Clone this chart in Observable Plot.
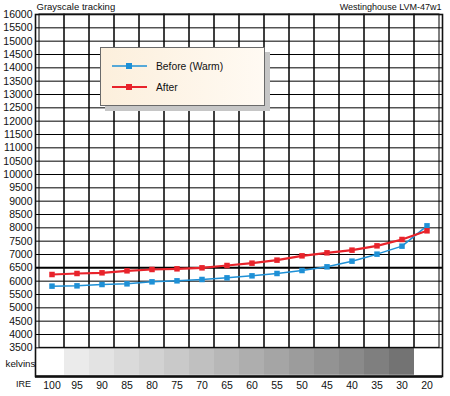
<!DOCTYPE html>
<html>
<head>
<meta charset="utf-8">
<script src="https://cdn.jsdelivr.net/npm/d3@7"></script>
<script src="https://cdn.jsdelivr.net/npm/@observablehq/plot@0.6"></script>
<style>
  html, body { margin: 0; padding: 0; background: #fff; }
  #wrap { position: relative; width: 450px; height: 396px; font-family: "Liberation Sans", Arial, sans-serif; }
  #legend {
    position: absolute; left: 100px; top: 47px; width: 163px; height: 57px;
    border: 1px solid #6a6a6a;
    background: linear-gradient(to right, #fcefdc, #fffaf3);
    box-shadow: 5px 5px 0 #c6c6c6;
  }
  #legend .item { position: absolute; left: 11px; height: 14px; display: flex; align-items: center; font-size: 10.3px; color: #111; }
  #legend svg { margin-right: 9px; }
</style>
</head>
<body>
<div id="wrap"></div>
<script>
const ire = ["100","95","90","85","80","75","70","65","60","55","50","45","40","35","30","20"];
const before = [5813,5825,5875,5900,5975,6013,6063,6125,6200,6288,6400,6538,6750,7013,7313,8075];
const after  = [6250,6288,6313,6388,6438,6463,6500,6588,6675,6788,6950,7063,7163,7325,7563,7888];
const swatch = ["#ffffff","#ebebeb","#e3e3e3","#dadada","#d2d2d2","#c9c9c9","#c0c0c0","#b7b7b7","#aeaeae","#a5a5a5","#9c9c9c","#939393","#8a8a8a","#7f7f7f","#737373","#ffffff"];
const yTicks = d3.range(3500, 16001, 500);
const seriesNames = ["Before (Warm)", "After"];
const colors = ["#1e90d6", "#e8232b"];

const data = ire.flatMap((k, i) => [
  {ire: k, series: seriesNames[0], v: before[i]},
  {ire: k, series: seriesNames[1], v: after[i]}
]);
const cells = ire.map((k, i) => ({ire: k, fill: swatch[i]}));

const chart = Plot.plot({
  width: 450, height: 396,
  marginLeft: 35, marginRight: 8, marginTop: 14, marginBottom: 20,
  style: {fontFamily: "Liberation Sans, Arial, sans-serif", fontSize: "10.5px", color: "#111", background: "#fff"},
  x: {type: "band", domain: ire, padding: 0, label: null, tickSize: 0, tickPadding: 5},
  y: {domain: [2425, 16000], ticks: yTicks, tickSize: 0, tickPadding: 3, label: null, tickFormat: d => String(d)},
  color: {domain: seriesNames, range: colors},
  marks: [
    Plot.barY(cells, {x: "ire", y1: 2470, y2: 3472, fill: "fill"}),
    Plot.barY(cells, {x: "ire", y1: 3500, y2: 16000, fill: "none", stroke: "#000", strokeWidth: 1}),
    Plot.ruleY(yTicks, {stroke: "#000", strokeWidth: d => d === 6500 ? 2 : 1}),
    Plot.frame({stroke: "#111", strokeWidth: 1.6}),
    Plot.ruleY([2425], {stroke: "#111", strokeWidth: 2.5}),
    Plot.line(data.filter(d => d.series === seriesNames[0]), {x: "ire", y: "v", stroke: colors[0], strokeWidth: 1.5}),
    Plot.line(data.filter(d => d.series === seriesNames[1]), {x: "ire", y: "v", stroke: colors[1], strokeWidth: 2.2}),
    Plot.dot(data, {x: "ire", y: "v", fill: "series", symbol: "square", r: 3.1}),
    Plot.text(["Grayscale tracking"], {frameAnchor: "top-left", dx: 1, dy: -5, lineAnchor: "bottom", textAnchor: "start", fontSize: 9.5}),
    Plot.text(["Westinghouse LVM-47w1"], {frameAnchor: "top-right", dx: -1, dy: -5, lineAnchor: "bottom", textAnchor: "end", fontSize: 9}),
    Plot.text(["kelvins"], {frameAnchor: "left", y: 2912, dx: -30, textAnchor: "start", fontSize: 9.8}),
    Plot.text(["IRE"], {frameAnchor: "bottom-left", dx: -12, dy: 10, textAnchor: "middle", fontSize: 9})
  ]
});
const wrap = document.getElementById("wrap");
wrap.appendChild(chart);

const legend = document.createElement("div");
legend.id = "legend";
seriesNames.forEach((name, i) => {
  const item = document.createElement("div");
  item.className = "item";
  item.style.top = (11 + i * 21) + "px";
  item.innerHTML = `<svg width="35" height="8"><line x1="0" x2="35" y1="4" y2="4" stroke="${colors[i]}" stroke-width="${i ? 2 : 1.6}"/><rect x="14" y="1" width="6" height="6" fill="${colors[i]}"/></svg><span>${name}</span>`;
  legend.appendChild(item);
});
wrap.appendChild(legend);
</script>
</body>
</html>
